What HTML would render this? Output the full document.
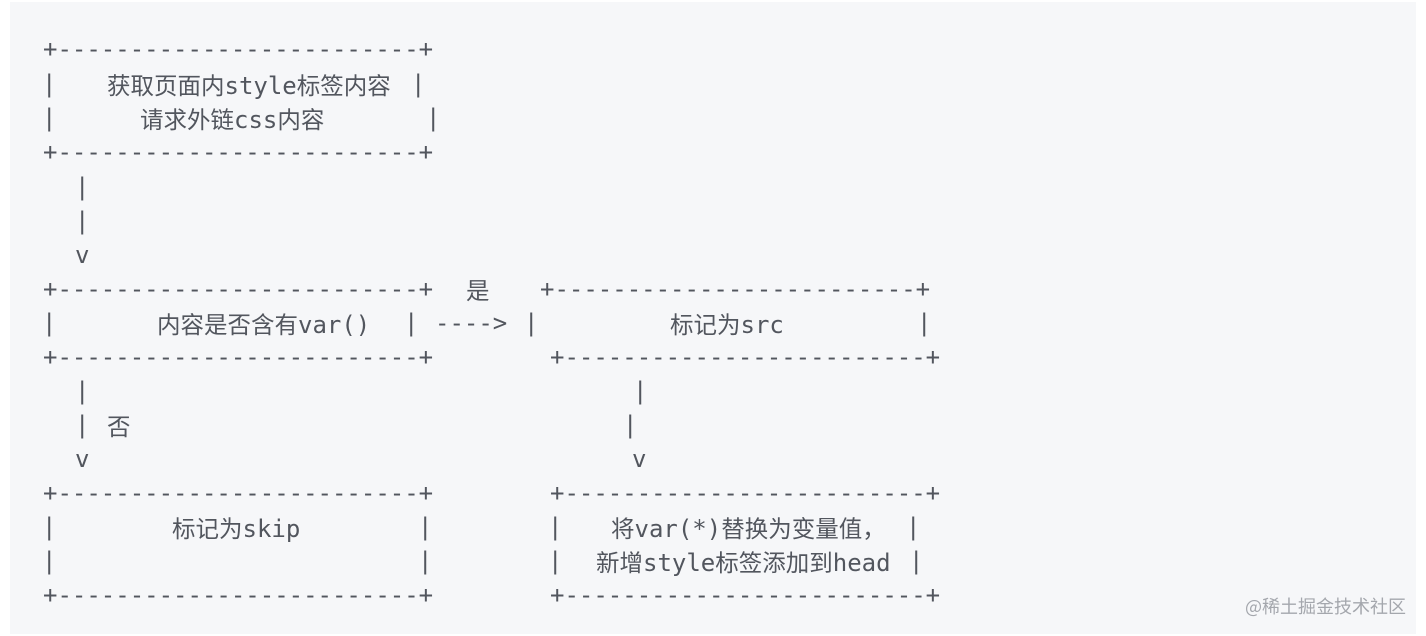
<!DOCTYPE html>
<html><head><meta charset="utf-8"><style>
html,body{margin:0;padding:0;background:#fff;width:1426px;height:636px;overflow:hidden}
#bg{position:absolute;left:10px;top:2px;width:1406px;height:632px;background:#f6f7f9}
.t{position:absolute;font-family:"DejaVu Sans Mono","Liberation Mono","Noto Sans CJK SC",monospace;font-size:24px;line-height:34px;color:#52565e;white-space:pre}
.c{font-family:"Noto Sans CJK SC","WenQuanYi Zen Hei",sans-serif;font-size:23.5px}
.w{position:absolute;left:1245px;top:594px;font-family:"Noto Sans CJK SC",sans-serif;font-size:18px;color:#a4a7ad;line-height:24px}
</style></head><body>
<div id="bg"></div>
<div class="t" style="left:43px;top:32px">+-------------------------+</div>
<div class="t" style="left:42px;top:67px">|</div>
<div class="t" style="left:107px;top:67px"><span class="c">获取页面内</span>style<span class="c">标签内容</span></div>
<div class="t" style="left:411px;top:67px">|</div>
<div class="t" style="left:42px;top:101px">|</div>
<div class="t" style="left:140px;top:101px"><span class="c">请求外链</span>css<span class="c">内容</span></div>
<div class="t" style="left:426px;top:101px">|</div>
<div class="t" style="left:43px;top:135px">+-------------------------+</div>
<div class="t" style="left:75px;top:170px">|</div>
<div class="t" style="left:75px;top:204px">|</div>
<div class="t" style="left:75px;top:238px">v</div>
<div class="t" style="left:43px;top:272px">+-------------------------+</div>
<div class="t" style="left:466px;top:272px"><span class="c">是</span></div>
<div class="t" style="left:540px;top:272px">+-------------------------+</div>
<div class="t" style="left:42px;top:306px">|</div>
<div class="t" style="left:157px;top:306px"><span class="c">内容是否含有</span>var()</div>
<div class="t" style="left:404px;top:306px">|</div>
<div class="t" style="left:435px;top:306px">----&gt;</div>
<div class="t" style="left:524px;top:306px">|</div>
<div class="t" style="left:670px;top:306px"><span class="c">标记为</span>src</div>
<div class="t" style="left:917px;top:306px">|</div>
<div class="t" style="left:43px;top:340px">+-------------------------+</div>
<div class="t" style="left:550px;top:340px">+-------------------------+</div>
<div class="t" style="left:75px;top:374px">|</div>
<div class="t" style="left:633px;top:374px">|</div>
<div class="t" style="left:75px;top:408px">|</div>
<div class="t" style="left:107px;top:408px"><span class="c">否</span></div>
<div class="t" style="left:623px;top:408px">|</div>
<div class="t" style="left:75px;top:442px">v</div>
<div class="t" style="left:632px;top:442px">v</div>
<div class="t" style="left:43px;top:476px">+-------------------------+</div>
<div class="t" style="left:550px;top:476px">+-------------------------+</div>
<div class="t" style="left:42px;top:510px">|</div>
<div class="t" style="left:172px;top:510px"><span class="c">标记为</span>skip</div>
<div class="t" style="left:418px;top:510px">|</div>
<div class="t" style="left:548px;top:510px">|</div>
<div class="t" style="left:611px;top:510px"><span class="c">将</span>var(*)<span class="c">替换为变量值，</span></div>
<div class="t" style="left:906px;top:510px">|</div>
<div class="t" style="left:42px;top:544px">|</div>
<div class="t" style="left:418px;top:544px">|</div>
<div class="t" style="left:548px;top:544px">|</div>
<div class="t" style="left:596px;top:544px"><span class="c">新增</span>style<span class="c">标签添加到</span>head</div>
<div class="t" style="left:909px;top:544px">|</div>
<div class="t" style="left:43px;top:578px">+-------------------------+</div>
<div class="t" style="left:550px;top:578px">+-------------------------+</div>
<div class="w">@稀土掘金技术社区</div>
</body></html>
